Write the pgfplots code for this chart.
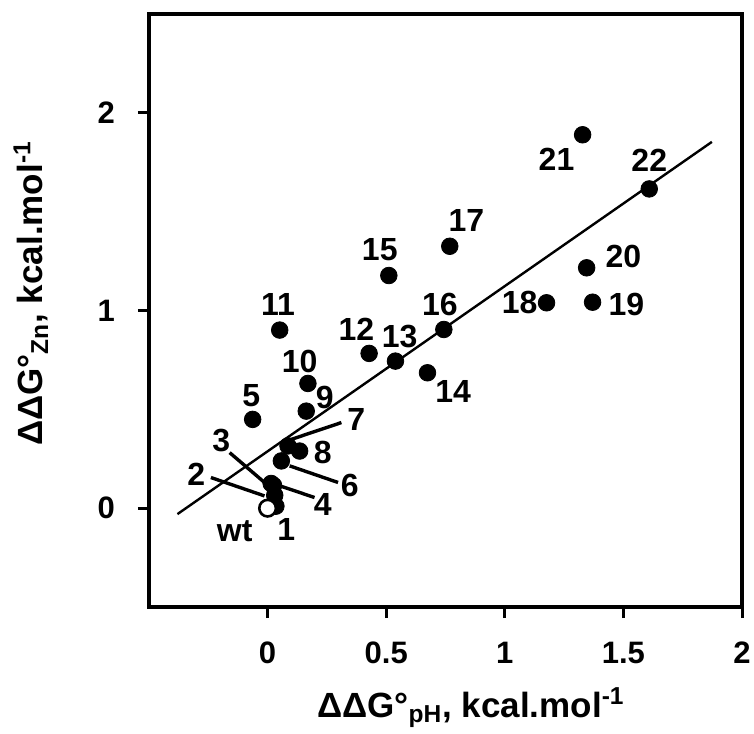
\documentclass[border=0pt]{standalone}
\usepackage{fontspec}
\setmainfont{Liberation Sans}
\usepackage{pgfplots}
\pgfplotsset{compat=1.18}
\usetikzlibrary{calc}

\newcommand{\lbl}{\fontsize{16}{19}\selectfont\bfseries}
\newcommand{\tkl}{\fontsize{15.5}{18}\selectfont\bfseries}

\begin{document}
\begin{tikzpicture}
\begin{axis}[
  scale only axis,
  width=296.5pt, height=296.5pt,
  xmin=-0.5, xmax=2, ymin=-0.5, ymax=2.5,
  axis line style={line width=1.6pt},
  tick pos=left, tick align=outside,
  major tick length=5.5pt,
  tick style={line width=1.5pt, black},
  xtick={0,0.5,1,1.5,2},
  xticklabels={0,0.5,1,1.5,2},
  ytick={0,1,2},
  yticklabels={0,1,2},
  tick label style={font=\tkl},
  xticklabel style={anchor=north, yshift=-8.5pt},
  yticklabel style={anchor=east, xshift=-8pt},
  xlabel={\fontsize{17.5}{21}\selectfont\bfseries ΔΔG°\textsubscript{pH}, kcal.mol\textsuperscript{-1}},
  ylabel={\fontsize{17.5}{21}\selectfont\bfseries ΔΔG°\textsubscript{Zn}, kcal.mol\textsuperscript{-1}},
  xlabel style={at={($(rel axis cs:0,0)+(80.5pt,-55pt)$)}, anchor=base west},
  ylabel style={at={($(rel axis cs:0,0)+(-53pt,77pt)$)}, anchor=base west},
  clip=false,
]
% fitted line
\addplot[black, line width=1.2pt, no marks] coordinates {(-0.38,-0.03) (1.873,1.853)};

% leader lines
\draw[line width=1.7pt] (axis cs:-0.239,0.155) -- (axis cs:-0.013,0.062);
\draw[line width=1.7pt] (axis cs:-0.160,0.281) -- (axis cs:-0.013,0.130);
\draw[line width=1.7pt] (axis cs:0.051,0.113) -- (axis cs:0.198,0.054);
\draw[line width=1.7pt] (axis cs:0.093,0.214) -- (axis cs:0.297,0.130);
\draw[line width=1.7pt] (axis cs:0.100,0.348) -- (axis cs:0.311,0.433);

% mutants
\addplot[only marks, mark=*, mark size=4.15pt, black] coordinates {
  (0.035,0.01) (0.03,0.065) (0.015,0.125) (0.025,0.115)
  (-0.063,0.449) (0.058,0.239) (0.086,0.315) (0.135,0.289)
  (0.163,0.491) (0.170,0.631) (0.051,0.901) (0.428,0.783)
  (0.539,0.744) (0.674,0.685) (0.511,1.177) (0.743,0.904)
  (0.768,1.325) (1.176,1.039) (1.370,1.042) (1.345,1.216)
  (1.328,1.889) (1.609,1.615)
};
% wild type
\addplot[only marks, mark=*, mark size=4.15pt, draw=black, fill=white, line width=1.3pt] coordinates {(0,0)};

% labels
\node[font=\lbl] at (axis cs:-0.139,-0.115) {wt};
\node[font=\lbl] at (axis cs:0.079,-0.106) {1};
\node[font=\lbl] at (axis cs:-0.301,0.172) {2};
\node[font=\lbl] at (axis cs:-0.195,0.340) {3};
\node[font=\lbl] at (axis cs:0.233,0.020) {4};
\node[font=\lbl] at (axis cs:-0.069,0.567) {5};
\node[font=\lbl] at (axis cs:0.346,0.113) {6};
\node[font=\lbl] at (axis cs:0.374,0.449) {7};
\node[font=\lbl] at (axis cs:0.233,0.281) {8};
\node[font=\lbl] at (axis cs:0.241,0.559) {9};
\node[font=\lbl] at (axis cs:0.135,0.744) {10};
\node[font=\lbl] at (axis cs:0.044,1.030) {11};
\node[font=\lbl] at (axis cs:0.374,0.904) {12};
\node[font=\lbl] at (axis cs:0.557,0.870) {13};
\node[font=\lbl] at (axis cs:0.782,0.592) {14};
\node[font=\lbl] at (axis cs:0.473,1.308) {15};
\node[font=\lbl] at (axis cs:0.726,1.030) {16};
\node[font=\lbl] at (axis cs:0.838,1.455) {17};
\node[font=\lbl] at (axis cs:1.063,1.039) {18};
\node[font=\lbl] at (axis cs:1.513,1.030) {19};
\node[font=\lbl] at (axis cs:1.500,1.274) {20};
\node[font=\lbl] at (axis cs:1.218,1.763) {21};
\node[font=\lbl] at (axis cs:1.609,1.759) {22};

\coordinate (bl) at (rel axis cs:0,0);
\coordinate (tr) at (rel axis cs:1,1);
\end{axis}
\pgfresetboundingbox
\path ($(bl)+(-74.5pt,-63pt)$) rectangle ($(tr)+(6pt,7pt)$);
\end{tikzpicture}
\end{document}
